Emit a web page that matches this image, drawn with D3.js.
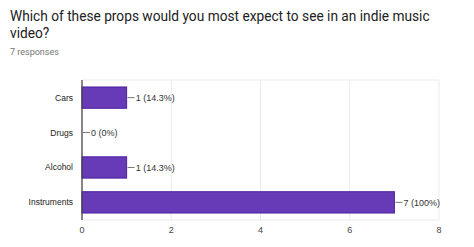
<!DOCTYPE html>
<html>
<head>
<meta charset="utf-8">
<script src="https://cdn.jsdelivr.net/npm/d3@7"></script>
<style>
  body { margin: 0; background: #fff; }
  svg text { font-family: Arial, "Liberation Sans", sans-serif; }
</style>
</head>
<body>
<div id="chart"></div>
<script>
// chart data
const categories = ["Cars", "Drugs", "Alcohol", "Instruments"];
const counts = [1, 0, 1, 7];
const percents = ["14.3%", "0%", "14.3%", "100%"];
const xTicks = [0, 2, 4, 6, 8];

const svgWidth = 474;
const svgHeight = 247;

const margin = { top: 80, right: 35, bottom: 27, left: 82 };
const width = svgWidth - margin.left - margin.right;
const height = svgHeight - margin.top - margin.bottom;

const svg = d3.select("#chart")
  .append("svg")
  .attr("width", svgWidth)
  .attr("height", svgHeight);

// title + subtitle
const title = svg.append("text")
  .attr("x", 10).attr("y", 21)
  .style("font-family", "Roboto, Arial, sans-serif")
  .attr("font-size", 15)
  .attr("fill", "#212121")
  .text("Which of these props would you most expect to see in an indie music");
// shrink the first line so it ends where the reference does (~x 430)
const tw = title.node().getComputedTextLength();
if (tw > 420) title.attr("font-size", 15 * 420 / tw);

svg.append("text")
  .attr("x", 10).attr("y", 38)
  .style("font-family", "Roboto, Arial, sans-serif")
  .attr("font-size", title.attr("font-size"))
  .attr("fill", "#212121")
  .text("video?");
svg.append("text")
  .attr("x", 10).attr("y", 55)
  .style("font-family", "Roboto, Arial, sans-serif")
  .attr("font-size", 9)
  .attr("fill", "#757575")
  .text("7 responses");

const chartGroup = svg.append("g")
  .attr("transform", `translate(${margin.left}, ${margin.top})`);

const xScale = d3.scaleLinear().domain([0, 8]).range([0, width]);
const yScale = d3.scaleBand().domain(categories).range([0, height]).paddingInner(0.39).paddingOuter(0.2);

// gridlines
chartGroup.selectAll(".grid")
  .data(xTicks.slice(1))
  .enter()
  .append("line")
  .attr("x1", d => xScale(d)).attr("x2", d => xScale(d))
  .attr("y1", 0).attr("y2", height)
  .attr("stroke", "#ebebeb")
  .attr("stroke-width", 1);
chartGroup.append("line")
  .attr("x1", 0).attr("x2", width)
  .attr("y1", 0).attr("y2", 0)
  .attr("stroke", "#ebebeb");
chartGroup.append("line")
  .attr("x1", 0).attr("x2", width)
  .attr("y1", height).attr("y2", height)
  .attr("stroke", "#ebebeb");

// bars
chartGroup.selectAll(".bar")
  .data(categories)
  .enter()
  .append("rect")
  .attr("x", 0)
  .attr("y", d => yScale(d))
  .attr("width", (d, i) => xScale(counts[i]))
  .attr("height", yScale.bandwidth())
  .attr("fill", (d, i) => counts[i] > 0 ? "#673ab7" : "none")
  .attr("stroke", (d, i) => counts[i] > 0 ? "#4a1f9e" : "none")
  .attr("stroke-width", 1);

// leader lines + value labels
chartGroup.selectAll(".leader")
  .data(categories)
  .enter()
  .append("line")
  .attr("x1", (d, i) => xScale(counts[i]) + 1)
  .attr("x2", (d, i) => xScale(counts[i]) + 8)
  .attr("y1", d => yScale(d) + yScale.bandwidth() / 2)
  .attr("y2", d => yScale(d) + yScale.bandwidth() / 2)
  .attr("stroke", "#777")
  .attr("stroke-width", 1);

chartGroup.selectAll(".val")
  .data(categories)
  .enter()
  .append("text")
  .attr("x", (d, i) => xScale(counts[i]) + 9)
  .attr("y", d => yScale(d) + yScale.bandwidth() / 2)
  .attr("dy", "0.35em")
  .attr("font-size", 9)
  .attr("fill", "#333")
  .text((d, i) => `${counts[i]} (${percents[i]})`);

// category labels
chartGroup.selectAll(".cat")
  .data(categories)
  .enter()
  .append("text")
  .attr("x", -9)
  .attr("y", d => yScale(d) + yScale.bandwidth() / 2)
  .attr("dy", "0.35em")
  .attr("text-anchor", "end")
  .attr("font-size", 8.5)
  .attr("fill", "#222")
  .text(d => d);

// zero axis line
chartGroup.append("line")
  .attr("x1", 0).attr("x2", 0)
  .attr("y1", 0).attr("y2", height)
  .attr("stroke", "#444")
  .attr("stroke-width", 1.3);

// x tick labels
chartGroup.selectAll(".tick-label")
  .data(xTicks)
  .enter()
  .append("text")
  .attr("x", d => xScale(d))
  .attr("y", height + 13)
  .attr("text-anchor", "middle")
  .attr("font-size", 9)
  .attr("fill", "#444")
  .text(d => d);
</script>
</body>
</html>
